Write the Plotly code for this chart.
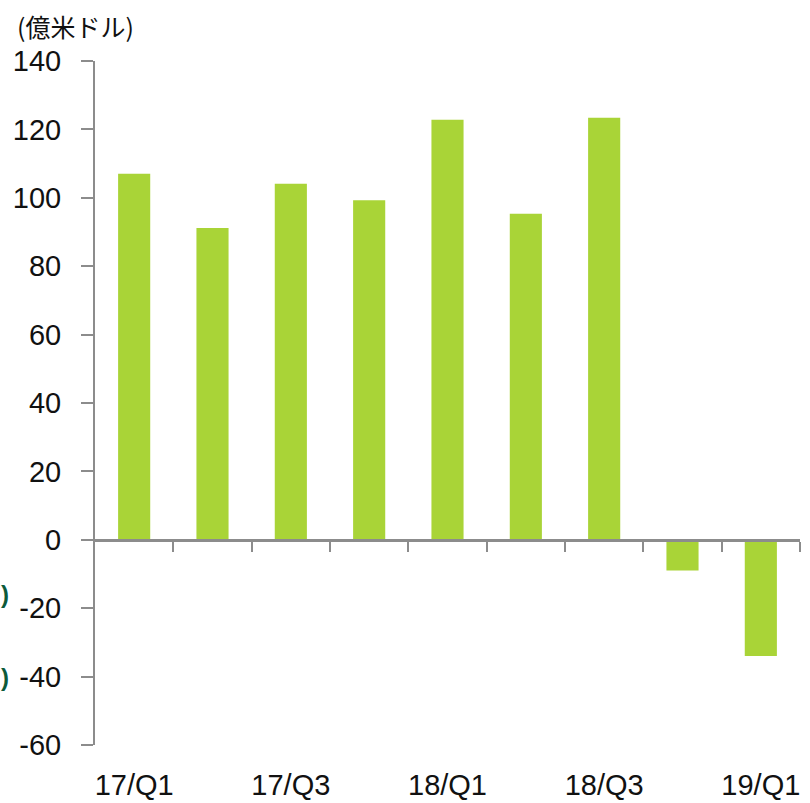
import plotly.graph_objects as go

categories = ["17/Q1", "17/Q2", "17/Q3", "17/Q4", "18/Q1", "18/Q2", "18/Q3", "18/Q4", "19/Q1"]
values = [107.0, 91.2, 104.1, 99.3, 122.8, 95.3, 123.4, -9.0, -34.0]
shown_labels = ["17/Q1", "17/Q3", "18/Q1", "18/Q3", "19/Q1"]
y_ticks = [-60, -40, -20, 0, 20, 40, 60, 80, 100, 120, 140]
y_tick_text = [str(v) for v in y_ticks]

idx = list(range(len(categories)))
label_pos = [categories.index(c) for c in shown_labels]
boundaries = [i + 0.5 for i in idx]

AXIS = "#8c8c8c"
FONT = "Liberation Sans, Arial, sans-serif"

fig = go.Figure()
fig.add_trace(go.Bar(x=idx, y=values, marker=dict(color="#a9d437", line=dict(width=0)),
                     width=0.41, hoverinfo="x+y"))
fig.add_trace(go.Scatter(x=[idx[0]], y=[0], xaxis="x2", mode="markers",
                         marker=dict(opacity=0), showlegend=False, hoverinfo="skip"))

fig.update_layout(
    width=810, height=803,
    margin=dict(l=95, r=10, t=61, b=58),
    plot_bgcolor="white", paper_bgcolor="white",
    showlegend=False,
    font=dict(family=FONT, size=29, color="#111111"),
    xaxis=dict(range=[-0.5, 8.5], tickvals=label_pos, ticktext=shown_labels,
               showline=False, ticks="", showgrid=False, zeroline=False, automargin=False,
               ticklabelstandoff=20, tickfont=dict(size=29)),
    xaxis2=dict(range=[-0.5, 8.5], overlaying="x", anchor="free", position=0.3,
                side="bottom", tickvals=boundaries, showticklabels=False, automargin=False,
                ticks="outside", ticklen=10, tickwidth=2, tickcolor=AXIS,
                showline=True, linecolor=AXIS, linewidth=2.5, showgrid=False, zeroline=False),
    yaxis=dict(range=[-60, 140], tickvals=y_ticks, ticktext=y_tick_text, showgrid=False,
               zeroline=False, automargin=False,
               showline=True, linecolor=AXIS, linewidth=2, ticks="outside", ticklen=12,
               tickwidth=2, tickcolor=AXIS, ticklabelstandoff=14, tickfont=dict(size=29)),
)

fig.add_annotation(text="(億米ドル)", xref="paper", yref="paper", x=-0.113, y=1.022,
                   xanchor="left", yanchor="bottom", showarrow=False,
                   font=dict(family="Noto Sans CJK JP", size=25, color="#111111"))
for yv in [-16.1, -40.4]:
    fig.add_annotation(text="<b>)</b>", xref="paper", yref="y", x=-0.1348, y=yv,
                       xanchor="left", yanchor="middle", showarrow=False, borderpad=0,
                       font=dict(family=FONT, size=24, color="#0d5a3a"))

fig.write_html("out.html", config={"displayModeBar": False},
               post_script="document.body.style.margin='0';")
